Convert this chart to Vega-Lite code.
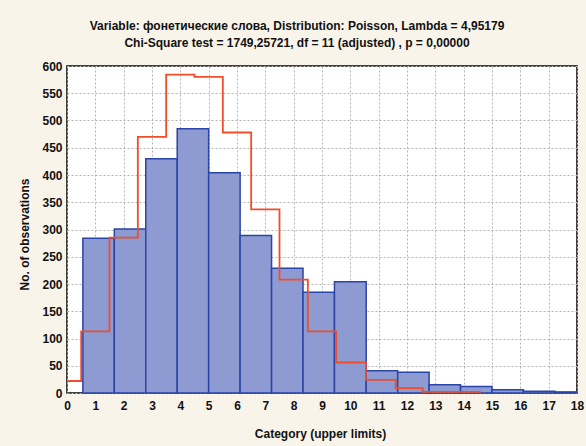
{
  "$schema": "https://vega.github.io/schema/vega-lite/v6.json",
  "width": 510,
  "height": 327,
  "autosize": {"type": "none"},
  "padding": {"left": 67, "top": 66, "right": 9, "bottom": 53},
  "background": "#f8f4ea",
  "view": {"fill": "#ffffff", "stroke": "#000000", "strokeWidth": 1.5},
  "config": {
    "font": "Liberation Sans",
    "axis": {
      "labelFont": "Liberation Sans",
      "labelFontSize": 12,
      "labelFontWeight": "bold",
      "labelColor": "#111111",
      "labelOverlap": false,
      "titleFont": "Liberation Sans",
      "titleFontSize": 12,
      "titleFontWeight": "bold",
      "titleColor": "#111111",
      "domain": false,
      "ticks": false,
      "grid": true,
      "gridColor": "#b4b4b4",
      "gridDash": [2, 2],
      "gridWidth": 1
    }
  },
  "title": {
    "text": [
      "Variable: фонетические слова, Distribution: Poisson, Lambda = 4,95179",
      "Chi-Square test = 1749,25721, df = 11 (adjusted) , p = 0,00000"
    ],
    "font": "Liberation Sans",
    "fontSize": 12,
    "fontWeight": "bold",
    "color": "#111111",
    "lineHeight": 17,
    "anchor": "middle",
    "frame": "group",
    "dx": -25,
    "offset": 10
  },
  "datasets": {
    "observed": [
      {"lower": 0.56, "upper": 1.67, "count": 284},
      {"lower": 1.67, "upper": 2.78, "count": 301},
      {"lower": 2.78, "upper": 3.89, "count": 430},
      {"lower": 3.89, "upper": 5.0, "count": 485},
      {"lower": 5.0, "upper": 6.11, "count": 404},
      {"lower": 6.11, "upper": 7.22, "count": 289},
      {"lower": 7.22, "upper": 8.33, "count": 229},
      {"lower": 8.33, "upper": 9.44, "count": 185},
      {"lower": 9.44, "upper": 10.56, "count": 204},
      {"lower": 10.56, "upper": 11.67, "count": 41},
      {"lower": 11.67, "upper": 12.78, "count": 38},
      {"lower": 12.78, "upper": 13.89, "count": 15},
      {"lower": 13.89, "upper": 15.0, "count": 12},
      {"lower": 15.0, "upper": 16.11, "count": 6},
      {"lower": 16.11, "upper": 17.22, "count": 3},
      {"lower": 17.22, "upper": 18.0, "count": 2}
    ],
    "expected": [
      {"edge": 0, "expected": 22},
      {"edge": 0.5, "expected": 113},
      {"edge": 1.5, "expected": 285},
      {"edge": 2.5, "expected": 470},
      {"edge": 3.5, "expected": 584},
      {"edge": 4.5, "expected": 580},
      {"edge": 5.5, "expected": 478},
      {"edge": 6.5, "expected": 337},
      {"edge": 7.5, "expected": 208},
      {"edge": 8.5, "expected": 113},
      {"edge": 9.5, "expected": 56},
      {"edge": 10.55, "expected": 24},
      {"edge": 11.6, "expected": 9},
      {"edge": 12.55, "expected": 2},
      {"edge": 14.6, "expected": 2}
    ]
  },
  "layer": [
    {
      "data": {"name": "observed"},
      "mark": {"type": "rect", "fill": "#8d9bd2", "stroke": "#2a44a8", "strokeWidth": 1.5},
      "encoding": {
        "x": {
          "field": "lower",
          "type": "quantitative",
          "scale": {"domain": [0, 18], "nice": false, "zero": false},
          "axis": {
            "title": "Category (upper limits)",
            "values": [0, 1, 2, 3, 4, 5, 6, 7, 8, 9, 10, 11, 12, 13, 14, 15, 16, 17, 18],
            "labelOverlap": false,
            "labelPadding": 7,
            "labelFlush": false,
            "titleX": 253,
            "titleY": 40,
            "titleBaseline": "middle"
          }
        },
        "x2": {"field": "upper"},
        "y": {
          "field": "count",
          "type": "quantitative",
          "scale": {"domain": [0, 600], "nice": false},
          "axis": {
            "title": "No. of observations",
            "values": [0, 50, 100, 150, 200, 250, 300, 350, 400, 450, 500, 550, 600],
            "labelOverlap": false,
            "labelPadding": 5,
            "labelFlush": false,
            "titleX": -43,
            "titleY": 168,
            "titleAngle": 270,
            "titleBaseline": "middle"
          }
        },
        "y2": {"datum": 0}
      }
    },
    {
      "data": {"name": "expected"},
      "mark": {"type": "line", "interpolate": "step-after", "color": "#f04e28", "strokeWidth": 1.8},
      "encoding": {
        "x": {
          "field": "edge",
          "type": "quantitative",
          "axis": {
            "title": "Category (upper limits)",
            "values": [0, 1, 2, 3, 4, 5, 6, 7, 8, 9, 10, 11, 12, 13, 14, 15, 16, 17, 18],
            "labelOverlap": false,
            "labelPadding": 7,
            "labelFlush": false,
            "titleX": 253,
            "titleY": 40,
            "titleBaseline": "middle"
          }
        },
        "y": {
          "field": "expected",
          "type": "quantitative",
          "axis": {
            "title": "No. of observations",
            "values": [0, 50, 100, 150, 200, 250, 300, 350, 400, 450, 500, 550, 600],
            "labelOverlap": false,
            "labelPadding": 5,
            "labelFlush": false,
            "titleX": -43,
            "titleY": 168,
            "titleAngle": 270,
            "titleBaseline": "middle"
          }
        }
      }
    }
  ]
}
